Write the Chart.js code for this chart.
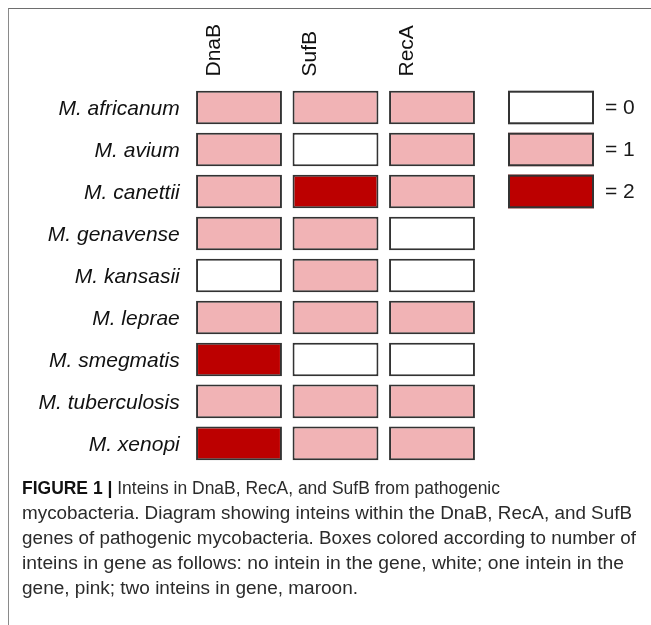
<!DOCTYPE html>
<html>
<head>
<meta charset="utf-8">
<script src="https://cdn.jsdelivr.net/npm/chart.js@4.4.1/dist/chart.umd.min.js"></script>
<style>
  html, body { margin: 0; padding: 0; background: #fff; }
  body { width: 651px; height: 625px; position: relative; overflow: hidden; }
  #frame { position: absolute; left: 8px; top: 8px; right: -2px; bottom: -2px;
           border-top: 1px solid #6e6e6e; border-left: 1px solid #8a8a8a; }
  #c { position: absolute; left: 0; top: 0; }
  #caption { position: absolute; left: 22px; top: 476px; font-family: "Liberation Sans", Arial, sans-serif;
             font-size: 18px; line-height: 25px; color: #2b2b2b; }
  #caption div { white-space: nowrap; }
  #caption span.l { display: inline-block; transform-origin: 0 50%; }
  #caption b { color: #111; }
</style>
</head>
<body>
<div id="frame"></div>
<canvas id="c" width="651" height="488"></canvas>
<div id="caption">
  <div><span class="l"><b>FIGURE 1 |</b> Inteins in DnaB, RecA, and SufB from pathogenic</span></div>
  <div><span class="l">mycobacteria. Diagram showing inteins within the DnaB, RecA, and SufB</span></div>
  <div><span class="l">genes of pathogenic mycobacteria. Boxes colored according to number of</span></div>
  <div><span class="l">inteins in gene as follows: no intein in the gene, white; one intein in the</span></div>
  <div><span class="l">gene, pink; two inteins in gene, maroon.</span></div>
</div>
<script>
// ---- data ----
const genes = ['DnaB', 'SufB', 'RecA'];
const species = ['M. africanum', 'M. avium', 'M. canettii', 'M. genavense', 'M. kansasii',
                 'M. leprae', 'M. smegmatis', 'M. tuberculosis', 'M. xenopi'];
const dnaB = [1, 1, 1, 1, 0, 1, 2, 1, 2];
const sufB = [1, 0, 2, 1, 1, 1, 0, 1, 1];
const recA = [1, 1, 1, 0, 0, 1, 0, 1, 1];
const legendValues = [0, 1, 2];
const legendLabels = ['= 0', '= 1', '= 2'];

// ---- styles ----
const palette = ['#ffffff', '#f1b3b5', '#bc0000'];
const edge = '#333333';
const half = 0.4;
const counts = [dnaB, sufB, recA];

const datasets = species.map((name, i) => ({
  label: name,
  data: genes.map(() => [i - half, i + half]),
  backgroundColor: counts.map(arr => palette[arr[i]]),
  borderColor: edge,
  borderWidth: 2,
  borderSkipped: false,
  grouped: false,
  categoryPercentage: 1,
  barPercentage: 0.89
}));

const legendPlugin = {
  id: 'boxLegend',
  afterDraw(chart) {
    const ctx = chart.ctx;
    const y = chart.scales.y;
    const x0 = 508, w = 86;
    ctx.save();
    legendValues.forEach((v, k) => {
      const t = y.getPixelForValue(k - half);
      const b = y.getPixelForValue(k + half);
      ctx.fillStyle = palette[v];
      ctx.fillRect(x0, t, w, b - t);
      ctx.strokeStyle = edge;
      ctx.lineWidth = 2;
      ctx.strokeRect(x0 + 1, t + 1, w - 2, b - t - 2);
      ctx.fillStyle = '#1a1a1a';
      ctx.font = '21px "Liberation Sans", Arial, sans-serif';
      ctx.textBaseline = 'middle';
      ctx.textAlign = 'left';
      ctx.fillText(legendLabels[k], x0 + w + 11, (t + b) / 2 + 1);
    });
    ctx.restore();
  }
};

new Chart(document.getElementById('c'), {
  type: 'bar',
  data: { labels: genes, datasets },
  plugins: [legendPlugin],
  options: {
    responsive: false,
    animation: false,
    devicePixelRatio: 1,
    layout: { padding: { left: 0, right: 170.75, top: 0, bottom: 5.5 } },
    plugins: { legend: { display: false }, tooltip: { enabled: false } },
    scales: {
      x: {
        type: 'category',
        position: 'top',
        offset: true,
        grid: { display: false, drawTicks: false },
        border: { display: false },
        ticks: {
          minRotation: 90, maxRotation: 90, padding: 10,
          color: '#111',
          font: { family: '"Liberation Sans", Arial, sans-serif', size: 21 }
        },
        afterFit(s) { s.height = 86.5; }
      },
      y: {
        type: 'linear',
        reverse: true,
        min: -0.5,
        max: 8.5,
        grid: { display: false, drawTicks: false },
        border: { display: false },
        afterBuildTicks(s) { s.ticks = species.map((_, i) => ({ value: i })); },
        ticks: {
          padding: 11,
          labelOffset: 1.5,
          color: '#111',
          font: { family: '"Liberation Sans", Arial, sans-serif', size: 21, style: 'italic' },
          callback: v => species[v]
        },
        afterFit(s) { s.width = 190.75; }
      }
    }
  }
});

// fit caption lines to the reference line widths
const targets = [478, 610, 614, 602, 336];
document.querySelectorAll('#caption span.l').forEach((el, i) => {
  const w = el.getBoundingClientRect().width;
  el.style.transform = 'scaleX(' + (targets[i] / w) + ')';
});
</script>
</body>
</html>
